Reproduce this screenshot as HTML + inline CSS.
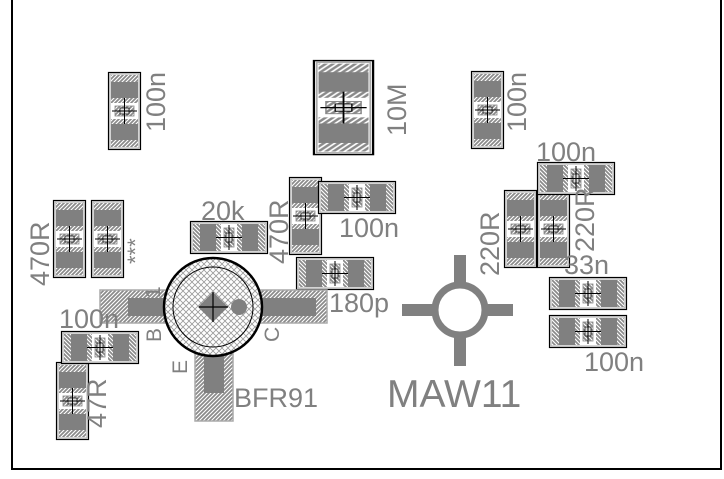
<!DOCTYPE html>
<html><head><meta charset="utf-8"><style>
html,body{margin:0;padding:0;background:#fff;}
svg{display:block;}
text{font-family:"Liberation Sans",sans-serif;fill:#808080;}
</style></head><body>
<svg width="724" height="479" viewBox="0 0 724 479" xmlns="http://www.w3.org/2000/svg">
<defs>
<pattern id="h" patternUnits="userSpaceOnUse" width="4" height="4">
<rect width="4" height="4" fill="#8a8a8a"/>
<path d="M-1,5 L5,-1 M-1,1 L1,-1 M3,5 L5,3" stroke="#fff" stroke-width="1.1"/>
</pattern>
<pattern id="x" patternUnits="userSpaceOnUse" width="6" height="6">
<rect width="6" height="6" fill="#fff"/>
<path d="M0,0 L6,6 M6,0 L0,6" stroke="#999" stroke-width="0.8"/>
</pattern>
<g id="v">
<rect x="0.5" y="0.5" width="32" height="77" fill="#fff" stroke="#000" stroke-width="1.2"/>
<rect x="2" y="2" width="29" height="74" fill="none" stroke="#aaa" stroke-width="1"/>
<rect x="3" y="3" width="27" height="28" fill="url(#h)"/>
<rect x="3" y="10" width="27" height="16" fill="#808080"/>
<rect x="3" y="47" width="27" height="28" fill="url(#h)"/>
<rect x="3" y="52" width="27" height="16" fill="#808080"/>
<rect x="7" y="34" width="19" height="10" fill="url(#h)" stroke="#888" stroke-width="0.8"/>
<rect x="12" y="36" width="9" height="6" fill="#ddd" stroke="#000" stroke-width="0.7"/>
<line x1="16.5" y1="26" x2="16.5" y2="52" stroke="#000" stroke-width="1"/>
<line x1="4" y1="39" x2="29" y2="39" stroke="#000" stroke-width="1"/>
</g>
</defs>

<rect x="12" y="-2" width="709" height="471" fill="none" stroke="#000" stroke-width="2"/>

<use href="#v" x="108" y="72"/>
<use href="#v" x="471" y="71"/>
<use href="#v" x="53" y="200"/>
<use href="#v" x="91" y="200"/>
<use href="#v" x="289" y="177"/>
<use href="#v" x="504" y="190"/>
<use href="#v" x="537" y="190"/>
<use href="#v" x="56" y="362"/>
<g transform="translate(313,60) scale(1.85,1.22)"><use href="#v"/></g>

<g transform="translate(268,221) rotate(90)"><use href="#v"/></g>
<g transform="translate(396,181) rotate(90)"><use href="#v"/></g>
<g transform="translate(374,257) rotate(90)"><use href="#v"/></g>
<g transform="translate(615,162) rotate(90)"><use href="#v"/></g>
<g transform="translate(627,277) rotate(90)"><use href="#v"/></g>
<g transform="translate(627,315) rotate(90)"><use href="#v"/></g>
<g transform="translate(139,331) rotate(90)"><use href="#v"/></g>

<rect x="100" y="290" width="72" height="33" fill="url(#h)" stroke="#aaa" stroke-width="1.5"/>
<rect x="128" y="298" width="44" height="18" fill="#808080"/>
<rect x="254" y="290" width="73" height="33" fill="url(#h)" stroke="#aaa" stroke-width="1.5"/>
<rect x="254" y="298" width="62" height="18" fill="#808080"/>
<rect x="195" y="345" width="38" height="76" fill="url(#h)" stroke="#aaa" stroke-width="1.5"/>
<rect x="204" y="345" width="20" height="48" fill="#808080"/>
<circle cx="213" cy="307" r="49" fill="url(#x)" stroke="#000" stroke-width="2.5"/>
<circle cx="213" cy="307" r="40" fill="url(#x)" stroke="#000" stroke-width="1"/>
<polygon points="213,292 228,307 213,322 198,307" fill="#808080"/>
<circle cx="239" cy="307" r="8" fill="#808080"/>
<line x1="213" y1="292" x2="213" y2="322" stroke="#000" stroke-width="1.2"/>
<line x1="199" y1="307" x2="228" y2="307" stroke="#000" stroke-width="1.2"/>

<circle cx="460" cy="310" r="25" fill="none" stroke="#808080" stroke-width="7"/>
<rect x="454" y="255" width="12" height="29" fill="#808080"/>
<rect x="454" y="336" width="12" height="30" fill="#808080"/>
<rect x="402" y="304" width="32" height="12" fill="#808080"/>
<rect x="486" y="304" width="27" height="12" fill="#808080"/>

<g font-size="27">
<text transform="translate(165,132) rotate(-90)">100n</text>
<text transform="translate(406,136) rotate(-90)">10M</text>
<text transform="translate(526,132) rotate(-90)">100n</text>
<text transform="translate(49,286) rotate(-90)">470R</text>
<text transform="translate(288,264) rotate(-90)">470R</text>
<text transform="translate(499,276) rotate(-90)">220R</text>
<text transform="translate(594,252) rotate(-90)">220R</text>
<text transform="translate(106,428) rotate(-90)">47R</text>
<text x="201" y="220">20k</text>
<text x="339" y="237">100n</text>
<text x="329" y="312">180p</text>
<text x="536" y="161">100n</text>
<text x="564" y="274">33n</text>
<text x="584" y="371">100n</text>
<text x="59" y="328">100n</text>
<text x="234" y="407">BFR91</text>
<text transform="translate(161,342) rotate(-90)" font-size="21">B</text>
<text transform="translate(279,342) rotate(-90)" font-size="21">C</text>
<text transform="translate(187,374) rotate(-90)" font-size="21">E</text>
<text transform="translate(160,298) rotate(-90)" font-size="21">1</text>
<text transform="translate(143,264) rotate(-90)" font-size="22">***</text>
</g>
<text x="387" y="407" font-size="39">MAW11</text>
</svg>
</body></html>
